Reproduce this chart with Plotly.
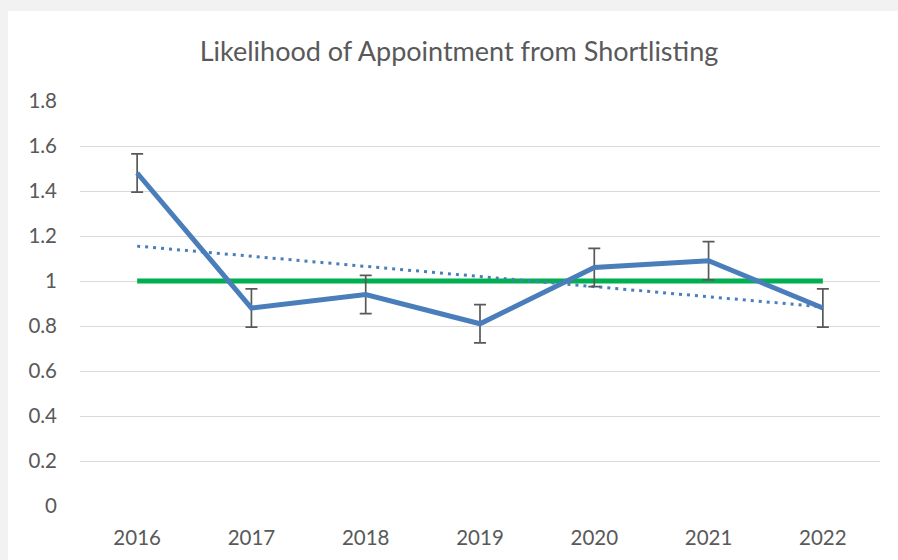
import numpy as np
import plotly.graph_objects as go

years = ["2016", "2017", "2018", "2019", "2020", "2021", "2022"]
likelihood = [1.48, 0.88, 0.94, 0.81, 1.06, 1.09, 0.88]
error = [0.085, 0.085, 0.085, 0.085, 0.085, 0.085, 0.085]
parity = [1, 1, 1, 1, 1, 1, 1]
y_ticks = [0, 0.2, 0.4, 0.6, 0.8, 1, 1.2, 1.4, 1.6, 1.8]
y_tick_text = ["0", "0.2", "0.4", "0.6", "0.8", "1", "1.2", "1.4", "1.6", "1.8"]

# linear trendline (least squares fit of the series)
xi = np.arange(len(years))
slope, intercept = np.polyfit(xi, likelihood, 1)
trend = list(intercept + slope * xi)

BLUE = "#4a7ebb"
GREEN = "#00b050"
GREY = "#595959"
FONT = "Lato"

fig = go.Figure()
fig.add_trace(go.Scatter(x=years, y=parity, mode="lines",
                         line=dict(color=GREEN, width=5), hoverinfo="skip"))
fig.add_trace(go.Scatter(x=years, y=trend, mode="lines",
                         line=dict(color=BLUE, width=3, dash="3px,5px"), hoverinfo="skip"))
fig.add_trace(go.Scatter(x=years, y=likelihood, mode="lines",
                         line=dict(color=BLUE, width=5),
                         error_y=dict(type="data", array=error, visible=True,
                                      color=GREY, thickness=1.7, width=6)))

W, H = 898, 560
L, R, T, B = 80, 18, 101, 54
pw, ph = W - L - R, H - T - B

fig.update_layout(
    width=W, height=H,
    margin=dict(l=L, r=R, t=T, b=B),
    paper_bgcolor="white", plot_bgcolor="white",
    showlegend=False,
    title=dict(text="Likelihood of Appointment from Shortlisting",
               x=459 / W, xref="container", xanchor="center",
               y=1 - 52 / H, yref="container", yanchor="middle",
               font=dict(family=FONT, size=27, color=GREY)),
    font=dict(family=FONT, size=20.5, color=GREY),
    xaxis=dict(type="category", range=[-0.5, 6.5],
               showgrid=False, showline=False, zeroline=False,
               ticks="", ticklabelstandoff=17,
               tickfont=dict(family=FONT, size=20.5, color=GREY)),
    yaxis=dict(range=[0, 1.8], tickvals=y_ticks, ticktext=y_tick_text,
               showgrid=True, gridcolor="#d9d9d9", gridwidth=1,
               zeroline=False, showline=False, ticks="", ticklabelstandoff=22,
               tickfont=dict(family=FONT, size=20.5, color=GREY)),
    shapes=[
        dict(type="rect", xref="paper", yref="paper",
             x0=(0 - L) / pw, x1=(W - L) / pw,
             y0=(H - B - 11) / ph, y1=(H - B) / ph,
             fillcolor="#f2f2f2", line=dict(width=0), layer="above"),
        dict(type="rect", xref="paper", yref="paper",
             x0=(0 - L) / pw, x1=(8 - L) / pw,
             y0=(H - B - H) / ph, y1=(H - B) / ph,
             fillcolor="#f2f2f2", line=dict(width=0), layer="above"),
    ],
)

fig.write_html("out.html",
               config={"displayModeBar": False},
               post_script="document.body.style.margin='0';document.body.style.padding='0';")
